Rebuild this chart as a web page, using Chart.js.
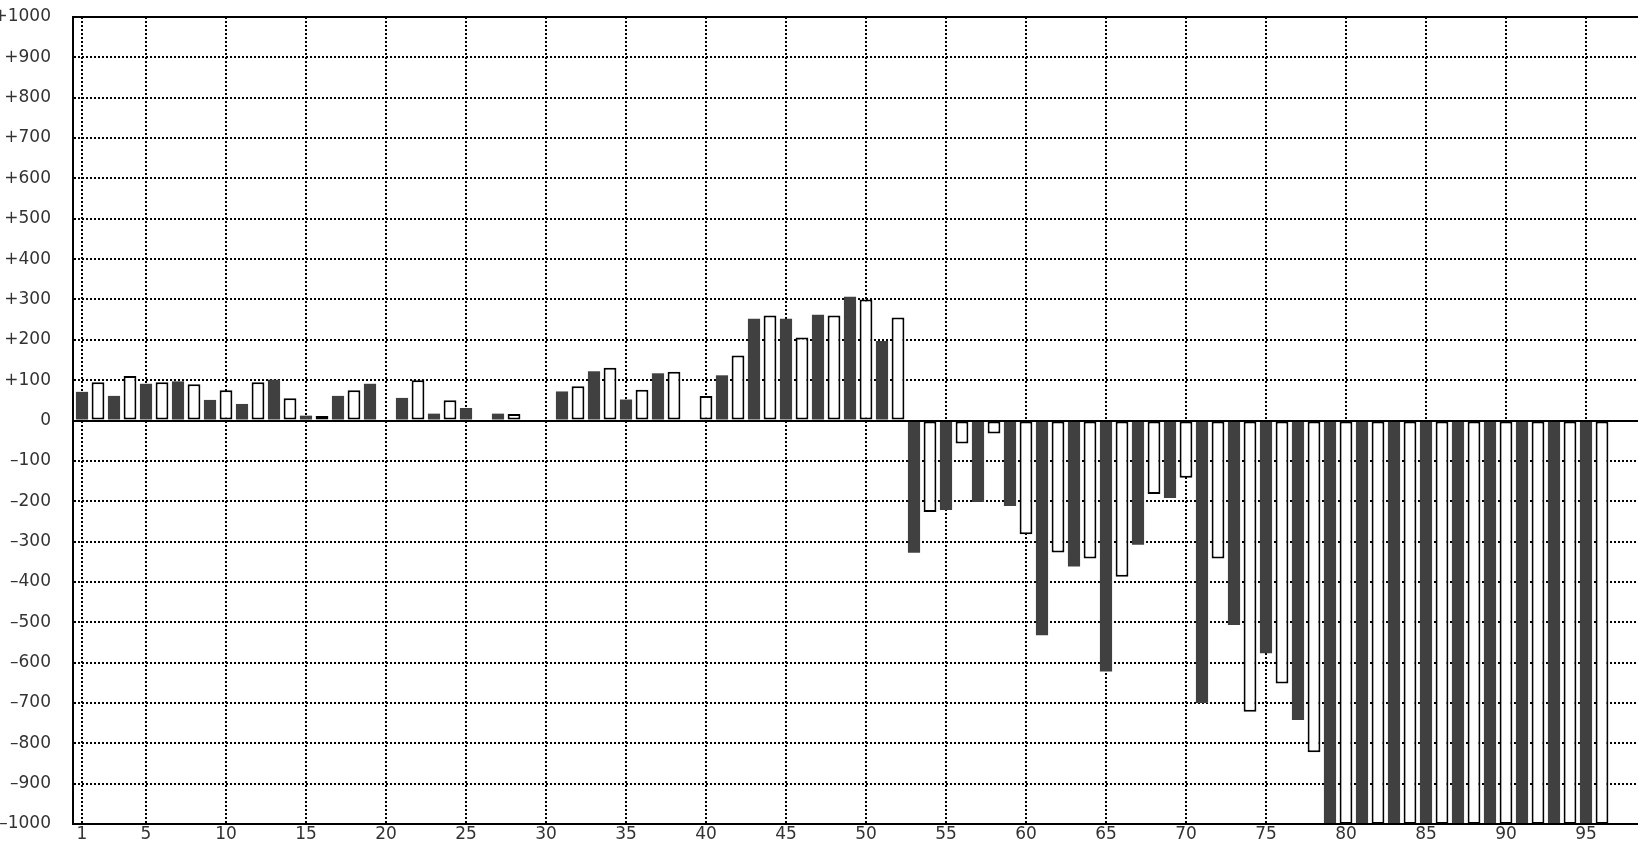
<!DOCTYPE html>
<html>
<head>
<meta charset="utf-8">
<script src="https://cdn.jsdelivr.net/npm/chart.js@4.4.1/dist/chart.umd.min.js"></script>
<style>
    html, body { margin: 0; padding: 0; background: #fff; overflow: hidden; }
    #wrap { width: 1684px; height: 844px; }
</style>
</head>
<body>
<div id="wrap"><canvas id="chart"></canvas></div>
<script>
// categories along the x axis (the axis runs past the right edge of the window)
const categories = [
    1, 2, 3, 4, 5, 6, 7, 8, 9, 10, 11, 12, 13, 14, 15, 16, 17, 18, 19, 20,
    21, 22, 23, 24, 25, 26, 27, 28, 29, 30, 31, 32, 33, 34, 35, 36, 37, 38, 39, 40,
    41, 42, 43, 44, 45, 46, 47, 48, 49, 50, 51, 52, 53, 54, 55, 56, 57, 58, 59, 60,
    61, 62, 63, 64, 65, 66, 67, 68, 69, 70, 71, 72, 73, 74, 75, 76, 77, 78, 79, 80,
    81, 82, 83, 84, 85, 86, 87, 88, 89, 90, 91, 92, 93, 94, 95, 96, 97, 98, 99, 100
];

// one value per bar, bar 1 .. bar 96 (odd bars dark, even bars white)
const values = [
    71, 95, 61, 110, 91, 95, 97, 90, 51, 75,
    41, 95, 101, 55, 12, 11, 61, 75, 91, 0,
    56, 100, 17, 50, 31, 0, 17, 16, 0, 0,
    72, 85, 122, 131, 52, 76, 117, 121, 0, 61,
    112, 161, 252, 260, 252, 206, 262, 260, 307, 300,
    197, 255, -328, -227, -222, -57, -202, -32, -212, -282,
    -532, -327, -362, -342, -622, -387, -308, -182, -192, -142,
    -700, -342, -507, -722, -577, -652, -742, -822, -1000, -1000,
    -1000, -1000, -1000, -1000, -1000, -1000, -1000, -1000, -1000, -1000,
    -1000, -1000, -1000, -1000, -1000, -1000
];

// x labels / vertical grid lines that are shown
const xTickLabels = [1, 5, 10, 15, 20, 25, 30, 35, 40, 45, 50, 55, 60, 65, 70, 75, 80, 85, 90, 95, 100];

// y axis range
const yMin = -1000;
const yMax = 1000;
const yStep = 100;

const darkData = values.map((v, i) => (i % 2 === 0 ? v : null));
const lightData = values.map((v, i) => (i % 2 === 1 ? v : null));

const labelFont = { family: "'DejaVu Sans', sans-serif", size: 17 };

// frame round the plot and a solid zero line
const framePlugin = {
    id: 'frame',
    afterDatasetsDraw(chart) {
        const { ctx, chartArea: a } = chart;
        const y0 = chart.scales.y.getPixelForValue(0);
        ctx.save();
        ctx.strokeStyle = '#000';
        ctx.lineWidth = 2;
        ctx.beginPath();
        ctx.moveTo(a.left, Math.round(y0));
        ctx.lineTo(a.right, Math.round(y0));
        ctx.stroke();
        ctx.strokeRect(a.left - 1, a.top, a.right - a.left + 1, a.bottom - a.top);
        ctx.restore();
    }
};

new Chart(document.getElementById('chart'), {
    type: 'bar',
    data: {
        labels: categories,
        datasets: [
            {
                data: darkData,
                backgroundColor: '#404040',
                borderWidth: 0,
                barPercentage: 0.76,
                categoryPercentage: 1,
                grouped: false
            },
            {
                data: lightData,
                backgroundColor: '#ffffff',
                borderColor: '#000000',
                borderWidth: 2,
                borderSkipped: false,
                barPercentage: 0.8,
                categoryPercentage: 1,
                grouped: false
            }
        ]
    },
    options: {
        responsive: true,
        maintainAspectRatio: false,
        animation: false,
        layout: { padding: { top: 17, right: 10, bottom: 0, left: 0 } },
        plugins: {
            legend: { display: false },
            tooltip: { enabled: false }
        },
        scales: {
            x: {
                offset: true,
                grid: {
                    offset: false,
                    drawTicks: false,
                    lineWidth: 2,
                    color: c => (c.tick && xTickLabels.includes(categories[c.index]) ? '#000' : 'rgba(0,0,0,0)')
                },
                border: { display: false, dash: [2, 2] },
                ticks: {
                    autoSkip: false,
                    maxRotation: 0,
                    padding: 0,
                    color: '#333',
                    font: labelFont,
                    callback: (val, i) => (xTickLabels.includes(categories[i]) ? String(categories[i]) : '')
                },
                afterFit: s => { s.height = 20; s.paddingLeft = 0; s.paddingRight = 0; }
            },
            y: {
                min: yMin,
                max: yMax,
                grid: {
                    drawTicks: false,
                    lineWidth: 2,
                    color: '#000'
                },
                border: { display: false, dash: [2, 2] },
                ticks: {
                    stepSize: yStep,
                    padding: 23,
                    color: '#333',
                    font: labelFont,
                    callback: v => (v > 0 ? '+' + v : v < 0 ? '\u2013' + (-v) : '0')
                },
                afterFit: s => { s.width = 74; s.paddingTop = 0; s.paddingBottom = 0; }
            }
        }
    },
    plugins: [framePlugin]
});
</script>
</body>
</html>
